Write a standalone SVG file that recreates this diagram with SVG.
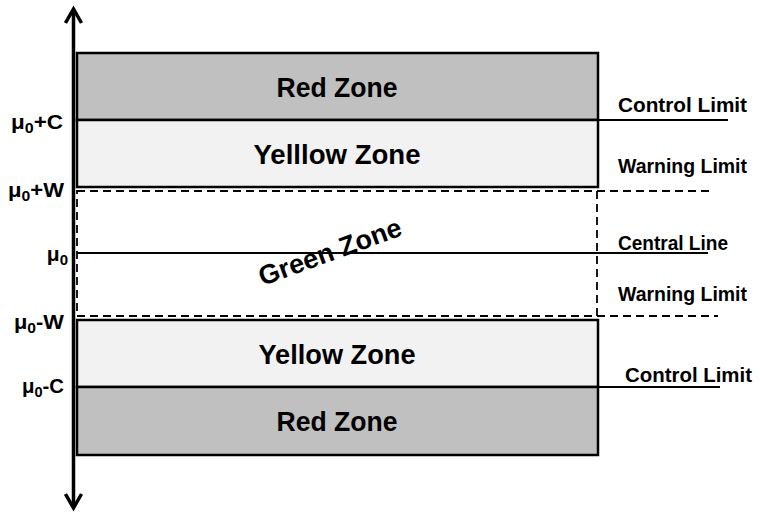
<svg xmlns="http://www.w3.org/2000/svg" width="760" height="512" viewBox="0 0 760 512">
<style>
text{font-family:"Liberation Sans",Arial,sans-serif;font-weight:bold;fill:#000}
.zone{font-size:27px;text-anchor:middle}
.lim{font-size:20px}
.mu{font-size:21px;text-anchor:end}
.sub{font-size:15px}
.solid{stroke:#000;stroke-width:2;fill:none}
.dash{stroke:#000;stroke-width:1.8;fill:none;stroke-dasharray:8 5}
</style>
<defs>
<marker id="ah" markerWidth="20" markerHeight="20" viewBox="0 0 20 20" refX="16" refY="10" orient="auto" markerUnits="userSpaceOnUse">
<path d="M2,2 L16,10 L2,18" fill="none" stroke="#000" stroke-width="3.5"/>
</marker>
</defs>
<rect width="760" height="512" fill="#fff"/>
<g id="red-top">
<rect x="77" y="53" width="521" height="67" fill="#c0c0c0" stroke="#000" stroke-width="2.5"/>
<text class="zone" x="337" y="97" textLength="121" lengthAdjust="spacingAndGlyphs">Red Zone</text>
</g>
<g id="yellow-top">
<rect x="77" y="120" width="521" height="67" fill="#f2f2f2" stroke="#000" stroke-width="2.5"/>
<text class="zone" x="337" y="164" textLength="167" lengthAdjust="spacingAndGlyphs">Yelllow Zone</text>
</g>
<g id="green">
<rect x="77" y="191" width="520" height="125" class="dash"/>
<text x="0" y="9" font-size="27" text-anchor="middle" transform="translate(330,252) rotate(-20)" textLength="150" lengthAdjust="spacingAndGlyphs">Green Zone</text>
</g>
<g id="yellow-bottom">
<rect x="77" y="320" width="521" height="67" fill="#f2f2f2" stroke="#000" stroke-width="2.5"/>
<text class="zone" x="337" y="364" textLength="157" lengthAdjust="spacingAndGlyphs">Yellow Zone</text>
</g>
<g id="red-bottom">
<rect x="77" y="387" width="521" height="68" fill="#c0c0c0" stroke="#000" stroke-width="2.5"/>
<text class="zone" x="337" y="431" textLength="121" lengthAdjust="spacingAndGlyphs">Red Zone</text>
</g>
<g id="connectors">
<line x1="73.5" y1="250" x2="73.5" y2="9" stroke="#000" stroke-width="3.5" marker-end="url(#ah)"/>
<line x1="73.5" y1="250" x2="73.5" y2="508" stroke="#000" stroke-width="3.5" marker-end="url(#ah)"/>
<line x1="598" y1="120" x2="728" y2="120" class="solid"/>
<line x1="597" y1="191" x2="713" y2="191" class="dash"/>
<line x1="77" y1="253" x2="708" y2="253" class="solid"/>
<line x1="597" y1="316" x2="718" y2="316" class="dash"/>
<line x1="598" y1="387" x2="720" y2="387" class="solid"/>
</g>
<g id="axis-labels">
<text class="mu" x="63" y="129" textLength="52" lengthAdjust="spacingAndGlyphs">μ<tspan class="sub" dy="4">0</tspan><tspan dy="-4">+C</tspan></text>
<text class="mu" x="64" y="197" textLength="56" lengthAdjust="spacingAndGlyphs">μ<tspan class="sub" dy="4">0</tspan><tspan dy="-4">+W</tspan></text>
<text class="mu" x="68" y="261">μ<tspan class="sub" dy="4">0</tspan></text>
<text class="mu" x="64" y="329" textLength="50" lengthAdjust="spacingAndGlyphs">μ<tspan class="sub" dy="4">0</tspan><tspan dy="-4">-W</tspan></text>
<text class="mu" x="64" y="393" textLength="42" lengthAdjust="spacingAndGlyphs">μ<tspan class="sub" dy="4">0</tspan><tspan dy="-4">-C</tspan></text>
</g>
<g id="limit-labels">
<text class="lim" x="618" y="112" textLength="129" lengthAdjust="spacingAndGlyphs">Control Limit</text>
<text class="lim" x="618" y="173" textLength="129" lengthAdjust="spacingAndGlyphs">Warning Limit</text>
<text class="lim" x="618" y="250" textLength="110" lengthAdjust="spacingAndGlyphs">Central Line</text>
<text class="lim" x="618" y="301" textLength="129" lengthAdjust="spacingAndGlyphs">Warning Limit</text>
<text class="lim" x="625" y="382" textLength="127" lengthAdjust="spacingAndGlyphs">Control Limit</text>
</g>
</svg>
